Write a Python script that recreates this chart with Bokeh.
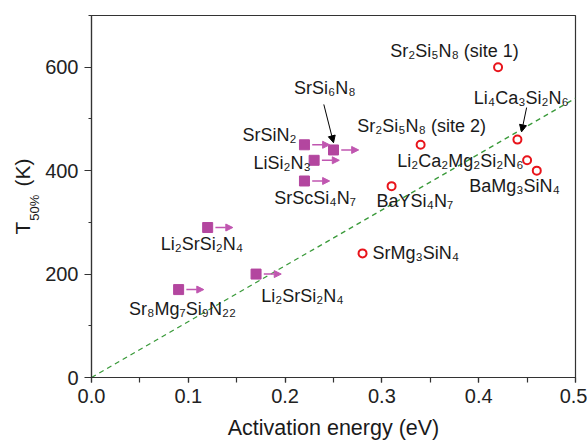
import numpy as np
from bokeh.plotting import figure
from bokeh.models import (Range1d, SingleIntervalTicker, PrintfTickFormatter, Arrow,
                          NormalHead, Label, ColumnDataSource)
from bokeh.embed import file_html
from bokeh.resources import INLINE
from bokeh.core.properties import value

# ---- data ----
sq_x = [0.12, 0.09, 0.17, 0.22, 0.25, 0.23, 0.22]
sq_y = [290, 170, 200, 450, 440, 420, 380]

circ_x = [0.42, 0.44, 0.34, 0.45, 0.46, 0.31, 0.28]
circ_y = [600, 460, 450, 420, 400, 370, 240]

fit_x = [0.0, 0.5]
fit_y = [0, 540]

label_text = ["Sr₂Si₅N₈ (site 1)", "Li₄Ca₃Si₂N₆", "SrSi₆N₈", "Sr₂Si₅N₈ (site 2)",
              "Li₂Ca₂Mg₂Si₂N₆", "BaMg₃SiN₄", "BaYSi₄N₇", "SrMg₃SiN₄",
              "SrSiN₂", "LiSi₂N₃", "SrScSi₄N₇", "Li₂SrSi₂N₄", "Sr₈Mg₇Si₉N₂₂", "Li₂SrSi₂N₄"]
label_x = [0.375, 0.444, 0.241, 0.341, 0.381, 0.437, 0.334, 0.335,
           0.184, 0.197, 0.231, 0.114, 0.094, 0.218]
label_y = [632, 541, 560, 487, 419, 371, 342, 240,
           468, 415, 348, 259, 133, 158]

# black pointer arrows (SrSi6N8, Li4Ca3Si2N6)
ptr_x0 = [0.240, 0.4495]
ptr_y0 = [528, 522]
ptr_x1 = [0.250, 0.4443]
ptr_y1 = [454, 475]

MAG = "#B3469F"
RED = "#E8141B"
FONT = "Liberation Sans"
NB = "\u00a0"

p = figure(width=587, height=442, output_backend="svg", toolbar_location=None,
           x_range=Range1d(0, 0.5), y_range=Range1d(0, 700),
           min_border_left=91, min_border_right=12, min_border_top=15, min_border_bottom=65)
p.grid.visible = False
p.outline_line_color = "#333333"
p.outline_line_width = 1.2

for ax in (p.xaxis[0], p.yaxis[0]):
    ax.axis_line_color = "#333333"
    ax.axis_line_width = 1.2
    ax.major_tick_line_color = "#333333"
    ax.minor_tick_line_color = "#333333"
    ax.major_tick_line_width = 1.2
    ax.minor_tick_line_width = 1.2
    ax.major_tick_in = 0
    ax.minor_tick_in = 0
    ax.major_label_text_font = FONT
    ax.major_label_text_font_size = "20px"
    ax.major_label_text_color = "#222222"

p.xaxis.ticker = SingleIntervalTicker(interval=0.1, num_minor_ticks=2)
p.yaxis.ticker = SingleIntervalTicker(interval=200, num_minor_ticks=2)
p.xaxis.formatter = PrintfTickFormatter(format="%.1f")
p.yaxis.formatter = PrintfTickFormatter(format="%d")
p.xaxis.major_tick_out = 5
p.xaxis.minor_tick_out = 5
p.yaxis.major_tick_out = 7
p.yaxis.minor_tick_out = 3
p.xaxis.major_label_standoff = 6
p.yaxis.major_label_standoff = 6

# fit line
p.line(fit_x, fit_y, line_color="#3A9A3A", line_dash="5 4", line_width=1.3)

# magenta squares + arrows
sq_src = ColumnDataSource(dict(x=sq_x, y=sq_y,
                               x0=[v + 0.008 for v in sq_x],
                               x1=[v + 0.026 for v in sq_x]))
p.scatter("x", "y", source=sq_src, marker="square", size=10, fill_color=MAG, line_color=MAG)
p.add_layout(Arrow(x_start="x0", y_start="y", x_end="x1", y_end="y", source=sq_src,
                   line_color="#C056B0", line_width=1.5,
                   end=NormalHead(size=7, fill_color="#C056B0", line_color="#C056B0")))

# red circles
p.scatter(circ_x, circ_y, marker="circle", size=8, fill_color="white",
          line_color=RED, line_width=2)

# pointer arrows
ptr_src = ColumnDataSource(dict(x0=ptr_x0, y0=ptr_y0, x1=ptr_x1, y1=ptr_y1))
p.add_layout(Arrow(x_start="x0", y_start="y0", x_end="x1", y_end="y1", source=ptr_src,
                   line_color="black", line_width=1,
                   end=NormalHead(size=7, fill_color="black", line_color="black")))

# labels
lab_src = ColumnDataSource(dict(x=label_x, y=label_y, t=label_text))
p.text("x", "y", text="t", source=lab_src, text_font=value(FONT), text_font_size="18px",
       text_align="center", text_baseline="middle", text_color="#1a1a1a")

# x axis title as an unclipped label in the bottom panel
p.add_layout(Label(x=0.25, y=-97, text="Activation energy (eV)", text_font=FONT,
                   text_font_size="21.5px", text_align="center", text_baseline="alphabetic",
                   text_color="#1a1a1a"), "below")
# y axis title: main part and subscript as labels in the left panel
p.add_layout(Label(x=-0.0713, y=350, text="T" + NB * 6 + "(K)", angle=np.pi / 2,
                   text_font=FONT, text_font_size="21px", text_align="center",
                   text_baseline="alphabetic", text_color="#1a1a1a"), "left")
p.add_layout(Label(x=-0.0585, y=303, text="50%", angle=np.pi / 2, text_font=FONT,
                   text_font_size="13px", text_align="left", text_baseline="alphabetic",
                   text_color="#1a1a1a"), "left")

open("out.html", "w").write(file_html(p, INLINE))
